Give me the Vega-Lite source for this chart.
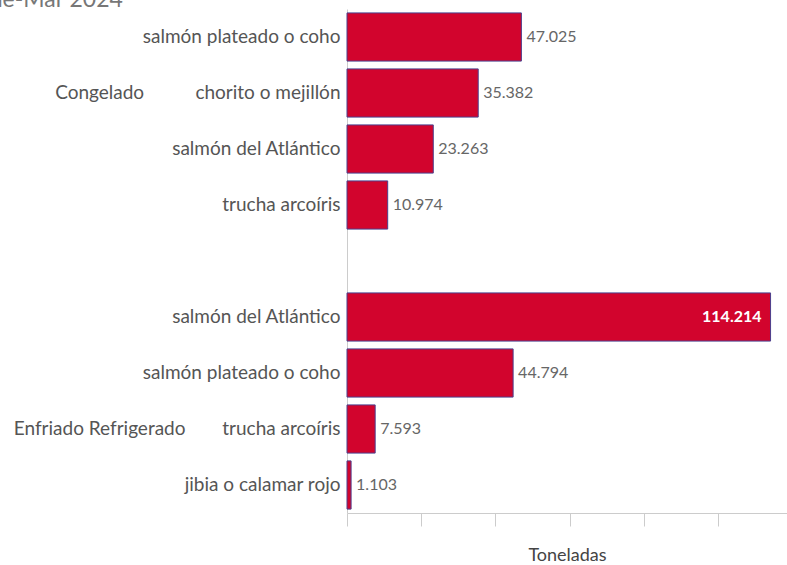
{
  "$schema": "https://vega.github.io/schema/vega-lite/v6.json",
  "autosize": {"type": "none"},
  "padding": {"left": 347, "top": 9, "right": 0, "bottom": 52},
  "width": 440,
  "height": 504,
  "title": {"text": "Ene-Mar 2024", "anchor": "start", "frame": "bounds", "orient": "top", "offset": 2, "dx": -37, "dy": 5, "fontSize": 23, "fontWeight": "normal", "color": "#777777", "font": "Lato"},
  "config": {
    "font": "Lato",
    "view": {"stroke": null},
    "locale": {"number": {"decimal": ",", "thousands": ".", "grouping": [3], "currency": ["$", ""]}}
  },
  "data": {"values": [
    {"grupo": "Congelado", "especie": "salmón plateado o coho", "clave": "Congelado|salmón plateado o coho", "toneladas": 47025},
    {"grupo": "Congelado", "especie": "chorito o mejillón", "clave": "Congelado|chorito o mejillón", "toneladas": 35382},
    {"grupo": "Congelado", "especie": "salmón del Atlántico", "clave": "Congelado|salmón del Atlántico", "toneladas": 23263},
    {"grupo": "Congelado", "especie": "trucha arcoíris", "clave": "Congelado|trucha arcoíris", "toneladas": 10974},
    {"grupo": "Enfriado Refrigerado", "especie": "salmón del Atlántico", "clave": "Enfriado Refrigerado|salmón del Atlántico", "toneladas": 114214},
    {"grupo": "Enfriado Refrigerado", "especie": "salmón plateado o coho", "clave": "Enfriado Refrigerado|salmón plateado o coho", "toneladas": 44794},
    {"grupo": "Enfriado Refrigerado", "especie": "trucha arcoíris", "clave": "Enfriado Refrigerado|trucha arcoíris", "toneladas": 7593},
    {"grupo": "Enfriado Refrigerado", "especie": "jibia o calamar rojo", "clave": "Enfriado Refrigerado|jibia o calamar rojo", "toneladas": 1103}
  ]},
  "encoding": {
    "y": {
      "field": "clave", "type": "nominal",
      "scale": {
        "domain": ["Congelado|salmón plateado o coho", "Congelado|chorito o mejillón", "Congelado|salmón del Atlántico", "Congelado|trucha arcoíris", "-", "Enfriado Refrigerado|salmón del Atlántico", "Enfriado Refrigerado|salmón plateado o coho", "Enfriado Refrigerado|trucha arcoíris", "Enfriado Refrigerado|jibia o calamar rojo"],
        "paddingInner": 0.14, "paddingOuter": 0.07
      },
      "axis": {
        "title": null, "ticks": false, "labelPadding": 7, "labelFontSize": 19, "labelColor": "#555555", "labelFont": "Lato",
        "labelExpr": "indexof(datum.value, '|') >= 0 ? split(datum.value, '|')[1] : ''",
        "domainColor": "#cccccc", "labelLimit": 300
      }
    }
  },
  "layer": [
    {
      "mark": {"type": "bar", "fill": "#D2042D", "stroke": "#4B3F8C", "strokeWidth": 1},
      "encoding": {
        "x": {
          "field": "toneladas", "type": "quantitative",
          "scale": {"domain": [0, 118650], "nice": false},
          "axis": {
            "title": "Toneladas", "titleFontSize": 18, "titleColor": "#444444", "titleFontWeight": "normal", "titlePadding": 20,
            "labels": false, "grid": false, "values": [0, 20000, 40000, 60000, 80000, 100000],
            "tickSize": 13, "tickColor": "#cccccc", "domainColor": "#cccccc"
          }
        }
      }
    },
    {
      "transform": [{"filter": "datum.toneladas < 100000"}],
      "mark": {"type": "text", "align": "left", "baseline": "middle", "dx": 5, "fontSize": 16, "color": "#666666"},
      "encoding": {
        "x": {"field": "toneladas", "type": "quantitative"},
        "text": {"field": "toneladas", "type": "quantitative", "format": ",d"}
      }
    },
    {
      "transform": [{"filter": "datum.toneladas >= 100000"}],
      "mark": {"type": "text", "align": "right", "baseline": "middle", "dx": -9, "fontSize": 16, "fontWeight": "bold", "color": "#ffffff"},
      "encoding": {
        "x": {"field": "toneladas", "type": "quantitative"},
        "text": {"field": "toneladas", "type": "quantitative", "format": ",d"}
      }
    },
    {
      "data": {"values": [
        {"grupo": "Congelado", "clave": "Congelado|chorito o mejillón"},
        {"grupo": "Enfriado Refrigerado", "clave": "Enfriado Refrigerado|trucha arcoíris"}
      ]},
      "mark": {"type": "text", "align": "center", "baseline": "middle", "fontSize": 19, "color": "#555555", "clip": false},
      "encoding": {
        "x": {"datum": -66700, "type": "quantitative"},
        "text": {"field": "grupo", "type": "nominal"}
      }
    }
  ]
}
